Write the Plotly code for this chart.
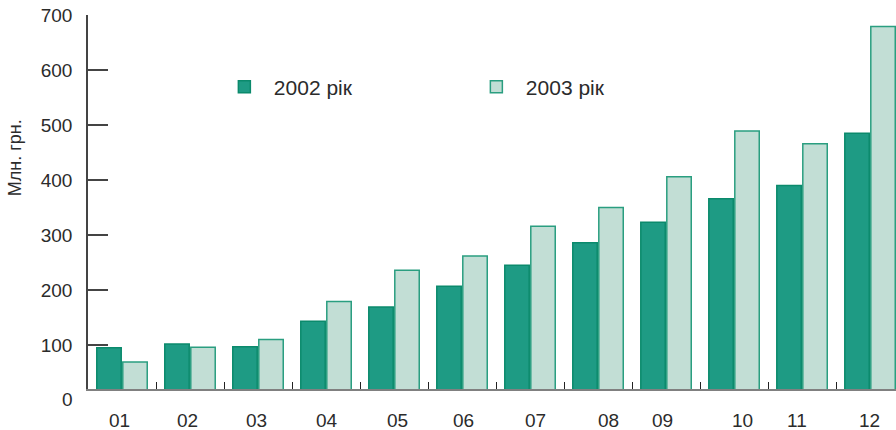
import plotly.graph_objects as go

# ---- data ----
months = ["01", "02", "03", "04", "05", "06", "07", "08", "09", "10", "11", "12"]
values_2002 = [95, 102, 97, 143, 169, 207, 245, 286, 323, 366, 390, 485]
values_2003 = [69, 96, 110, 179, 236, 262, 316, 350, 406, 489, 466, 679]
series_names = ["2002 рік", "2003 рік"]
y_tick_values = [100, 200, 300, 400, 500, 600, 700]
y_title = "Млн. грн."

# ---- style ----
FONT = "Liberation Sans, Arial, sans-serif"
TXT = "#2b2b2b"
DARK_FILL, DARK_LINE = "#1e9b84", "#0b8a6c"
LIGHT_FILL, LIGHT_LINE = "#c2ded5", "#2a9e80"
Y_MIN, Y_MAX = 20, 700
# small horizontal nudges (px) of the month labels, as in the original print
label_nudge_px = [-3, -3, -2, 1, 3, 1, 5, 10, -4, 8, -5, -1]

fig = go.Figure()
fig.add_trace(go.Bar(x=months, y=values_2002, name=series_names[0],
                     marker=dict(color=DARK_FILL, line=dict(color=DARK_LINE, width=1.5))))
fig.add_trace(go.Bar(x=months, y=values_2003, name=series_names[1],
                     marker=dict(color=LIGHT_FILL, line=dict(color=LIGHT_LINE, width=1.5))))

annotations = []
for i, (m, dx) in enumerate(zip(months, label_nudge_px)):
    annotations.append(dict(x=i, y=0, xref="x", yref="paper", text=m, showarrow=False,
                            xanchor="center", yanchor="middle", yshift=-31, xshift=dx,
                            font=dict(family=FONT, size=19, color=TXT)))
# zero label (axis baseline sits slightly above zero in the original)
annotations.append(dict(x=0, y=(0 - Y_MIN) / (Y_MAX - Y_MIN), xref="paper", yref="paper",
                        text="0", showarrow=False, xanchor="right", yanchor="middle",
                        xshift=-13, font=dict(family=FONT, size=19, color=TXT)))
annotations.append(dict(x=0, y=0.617, xref="paper", yref="paper", text=y_title,
                        showarrow=False, textangle=-90, xanchor="center", yanchor="middle",
                        xshift=-73, font=dict(family=FONT, size=18, color=TXT)))

fig.update_layout(
    width=896, height=430,
    margin=dict(l=88, r=0, t=15, b=41, autoexpand=False),
    paper_bgcolor="white", plot_bgcolor="white",
    barmode="group", bargap=0.235, bargroupgap=0.06,
    font=dict(family=FONT, size=19, color=TXT),
    showlegend=True,
    legend=dict(orientation="h", x=0.157, y=0.8075, xanchor="left", yanchor="middle",
                itemwidth=49, entrywidth=188, entrywidthmode="pixels",
                font=dict(family=FONT, size=21, color=TXT), bgcolor="rgba(0,0,0,0)"),
    annotations=annotations,
)
fig.update_xaxes(type="category", range=[-0.5, 11.382], showticklabels=False,
                 showline=True, linecolor="#808080", linewidth=2,
                 ticks="inside", tickson="boundaries", ticklen=7, tickcolor="#222",
                 tickwidth=1, showgrid=False, zeroline=False, fixedrange=True,
                 automargin=False)
fig.update_yaxes(range=[Y_MIN, Y_MAX], tickvals=y_tick_values, showline=True,
                 linecolor="#444", linewidth=1.5, ticks="inside", ticklen=20,
                 tickcolor="#444", tickwidth=1.5, ticklabelstandoff=10,
                 tickfont=dict(family=FONT, size=19, color=TXT),
                 showgrid=False, zeroline=False, fixedrange=True, automargin=False)

fig.write_html("out.html", config={"displayModeBar": False},
               post_script="document.body.style.margin='0';document.body.style.padding='0';")
